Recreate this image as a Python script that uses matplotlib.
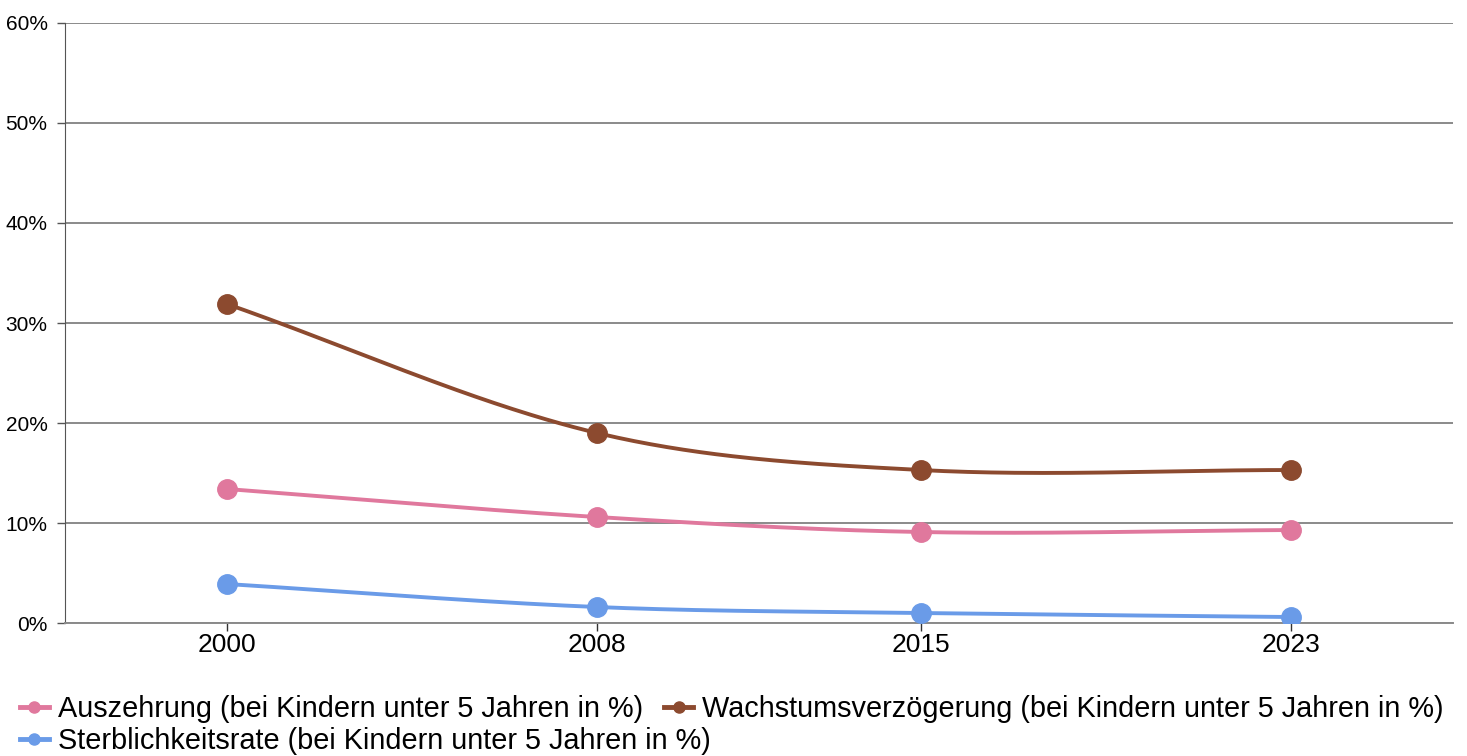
import numpy as np
import matplotlib.pyplot as plt
from matplotlib.lines import Line2D

# Daten (in %)
jahre = np.array([2000, 2008, 2015, 2023])
auszehrung = np.array([13.4, 10.6, 9.1, 9.3])
wachstum = np.array([31.9, 19.0, 15.3, 15.3])
sterblichkeit = np.array([3.9, 1.6, 1.0, 0.6])

namen = ['Auszehrung (bei Kindern unter 5 Jahren in %)',
         'Wachstumsverzögerung (bei Kindern unter 5 Jahren in %)',
         'Sterblichkeitsrate (bei Kindern unter 5 Jahren in %)']
farben = ['#e0789d', '#8c4a2f', '#6a9be8']


def glatt(x, y, n=80):
    # kubische Hermite-Kurve durch die Punkte (wie curveType 'function')
    x = x.astype(float)
    m = np.zeros(len(x))
    m[0] = (y[1] - y[0]) / (x[1] - x[0])
    m[-1] = (y[-1] - y[-2]) / (x[-1] - x[-2])
    for i in range(1, len(x) - 1):
        m[i] = (y[i + 1] - y[i - 1]) / (x[i + 1] - x[i - 1])
    xs, ys = [], []
    for i in range(len(x) - 1):
        h = x[i + 1] - x[i]
        t = np.linspace(0, 1, n)
        h00 = 2 * t**3 - 3 * t**2 + 1
        h10 = t**3 - 2 * t**2 + t
        h01 = -2 * t**3 + 3 * t**2
        h11 = t**3 - t**2
        xs.append(x[i] + t * h)
        ys.append(h00 * y[i] + h10 * h * m[i] + h01 * y[i + 1] + h11 * h * m[i + 1])
    return np.concatenate(xs), np.concatenate(ys)


fig = plt.figure(figsize=(14.67, 7.56), dpi=100)
ax = fig.add_axes([0.0443, 0.1759, 0.9462, 0.7937])

for werte, farbe in zip([auszehrung, wachstum, sterblichkeit], farben):
    kx, ky = glatt(jahre, werte)
    ax.plot(kx, ky, color=farbe, lw=2.8, zorder=3, solid_capstyle='round')
    ax.plot(jahre, werte, 'o', color=farbe, markersize=14, zorder=4)

ax.set_xlim(1996.5, 2026.5)
ax.set_ylim(0, 60)
ax.set_xticks(jahre)
ax.set_yticks(range(0, 61, 10))
ax.set_yticklabels([f'{v}%' for v in range(0, 61, 10)])
ax.yaxis.grid(True, color='#8a8a8a', lw=1.4)
ax.set_axisbelow(True)

for s in ['top', 'right']:
    ax.spines[s].set_visible(False)
ax.spines['left'].set_color('#555555')
ax.spines['bottom'].set_color('#8a8a8a')
ax.spines['bottom'].set_linewidth(1.4)
ax.tick_params(axis='y', length=6, width=1, color='#555555', pad=6.5)
ax.tick_params(axis='x', length=6, width=1, color='#333333', pad=1.5)
for lab in ax.get_xticklabels() + ax.get_yticklabels():
    lab.set_family(['Liberation Sans', 'DejaVu Sans'])
for lab in ax.get_xticklabels():
    lab.set_fontsize(19)
for lab in ax.get_yticklabels():
    lab.set_fontsize(15)

# Legende in zwei Zeilen
griffe = [Line2D([0], [0], color=f, lw=3.5, marker='o', markersize=8) for f in farben]
schrift = {'family': ['Liberation Sans', 'DejaVu Sans'], 'size': 20.8}
opts = dict(loc='center left', frameon=False, prop=schrift, handlelength=1.0,
            handletextpad=0.3, borderaxespad=0, borderpad=0)
fig.legend(griffe[:2], namen[:2], bbox_to_anchor=(0.0136, 0.062), ncol=2,
           columnspacing=0.75, **opts)
fig.legend(griffe[2:], namen[2:], bbox_to_anchor=(0.0136, 0.020), **opts)

fig.savefig('out.png', dpi=100)
